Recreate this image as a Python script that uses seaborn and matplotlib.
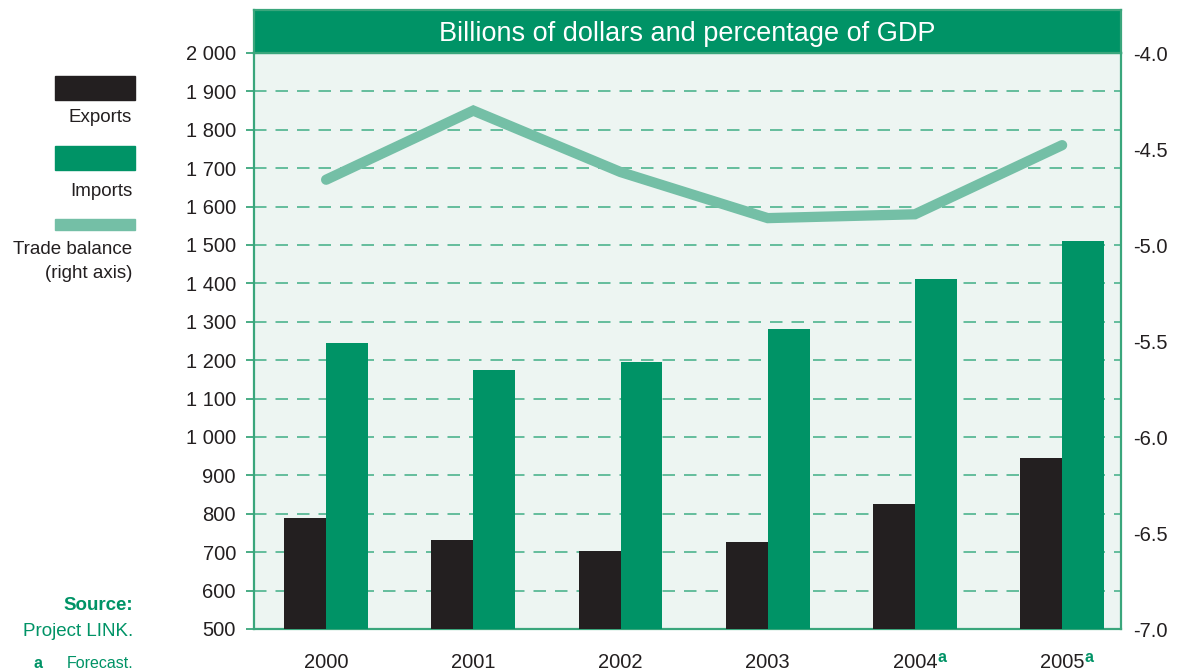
import numpy as np
import pandas as pd
import matplotlib
matplotlib.use("Agg")
import matplotlib.pyplot as plt
from matplotlib.ticker import FuncFormatter, FixedLocator
from matplotlib.patches import Rectangle
import seaborn as sns

# data
years = ["2000", "2001", "2002", "2003", "2004", "2005"]
forecast_years = ["2004", "2005"]
exports = [789, 732, 703, 727, 826, 945]
imports = [1245, 1174, 1195, 1281, 1411, 1510]
trade_balance = [-4.66, -4.30, -4.62, -4.86, -4.84, -4.48]
left_ticks = list(range(500, 2001, 100))
right_ticks = [-4.0, -4.5, -5.0, -5.5, -6.0, -6.5, -7.0]

# colours
BLACK = "#231f20"
GREEN = "#009366"
LIGHT = "#74bfa6"
BG = "#edf5f2"
GRID = "#4db38e"
FRAME = "#3aa67c"
TEXT = "#231f20"

sns.set_style("white")
plt.rcParams["font.family"] = ["Liberation Sans", "DejaVu Sans"]

df = pd.DataFrame({
    "year": years * 2,
    "value": exports + imports,
    "series": ["Exports"] * len(years) + ["Imports"] * len(years),
})

fig = plt.figure(figsize=(11.78, 6.72), dpi=100)
L, B, W, H = 254 / 1178, 1 - 629 / 672, (1121 - 254) / 1178, (629 - 53) / 672
ax = fig.add_axes([L, B, W, H])
ax.set_facecolor(BG)

sns.barplot(data=df, x="year", y="value", hue="series", order=years,
            palette={"Exports": BLACK, "Imports": GREEN}, width=0.57,
            saturation=1, linewidth=0, legend=False, ax=ax, zorder=3)

ax.set_ylim(500, 2000)
ax.set_xlim(-0.49, 5.40)
ax.yaxis.set_major_locator(FixedLocator(left_ticks))
ax.yaxis.set_major_formatter(FuncFormatter(lambda v, p: f"{int(v):,}".replace(",", " ")))
ax.tick_params(axis="y", direction="out", length=6, width=1.3, color=FRAME,
               labelsize=14.5, labelcolor=TEXT, pad=7)
for v in left_ticks[1:-1]:
    ax.axhline(v, color=GRID, lw=1.2, ls=(0, (7.5, 5.4)), zorder=1)

ax.set_xticks(range(len(years)), labels=years)
ax.set_xticks(np.arange(0.5, len(years) - 1, 1), minor=True)
ax.tick_params(axis="x", which="major", length=0, labelsize=14.5,
               labelcolor=TEXT, pad=17)
ax.tick_params(axis="x", which="minor", direction="out", length=8,
               width=1.3, color="#555555")
ax.set_xlabel("")
ax.set_ylabel("")
for s in ax.spines.values():
    s.set_color(FRAME)
    s.set_linewidth(1.6)

# trade balance on the right axis
ax2 = ax.twinx()
sns.lineplot(x=np.arange(len(years)), y=trade_balance, ax=ax2, color=LIGHT,
             lw=7.4, solid_capstyle="round", solid_joinstyle="miter", zorder=4)
ax2.set_ylim(-7.0, -4.0)
ax2.set_yticks(right_ticks)
ax2.yaxis.set_major_formatter(FuncFormatter(lambda v, p: f"{v:.1f}"))
ax2.tick_params(axis="y", length=0, labelsize=14.5, labelcolor=TEXT, pad=9)
for s in ax2.spines.values():
    s.set_visible(False)

# superscript "a" on forecast years
fig.canvas.draw()
for lab in ax.get_xticklabels():
    if lab.get_text() in forecast_years:
        ax.annotate("a", xy=(1, 0), xycoords=lab, xytext=(0.3, 7),
                    textcoords="offset points", ha="left", va="baseline",
                    fontsize=11.5, fontweight="bold", color=GREEN,
                    annotation_clip=False)

# title band
band = fig.add_axes([L, 1 - 53 / 672, W, 43 / 672])
band.set_facecolor(GREEN)
band.set_xticks([])
band.set_yticks([])
for s in band.spines.values():
    s.set_color(FRAME)
    s.set_linewidth(1.6)
band.text(0.5, 0.45, "Billions of dollars and percentage of GDP", color="white",
          fontsize=19.5, ha="center", va="center", transform=band.transAxes)

# legend on the left
def px(x, y):
    return x / 1178, 1 - y / 672

for (y0, h, col) in [(76, 24, BLACK), (146, 24, GREEN), (219, 11, LIGHT)]:
    x0, y1 = px(55, y0 + h)
    fig.patches.append(Rectangle((x0, y1), 80 / 1178, h / 672, color=col,
                                 transform=fig.transFigure, figure=fig))

for label, y in [("Exports", 118), ("Imports", 191),
                 ("Trade balance", 250), ("(right axis)", 273)]:
    fig.text(*px(132, y), label, ha="right", va="center", fontsize=13.5,
             color=TEXT)

fig.text(*px(133, 605), "Source:", ha="right", va="center", fontsize=13.5,
         fontweight="bold", color=GREEN)
fig.text(*px(133, 632), "Project LINK.", ha="right", va="center",
         fontsize=13.5, color=GREEN)
fig.text(*px(33, 664), "a", ha="left", va="center", fontsize=11.5,
         fontweight="bold", color=GREEN)
fig.text(*px(133, 664), "Forecast.", ha="right", va="center", fontsize=11.5,
         color=GREEN)

fig.savefig("out.png", dpi=100)
